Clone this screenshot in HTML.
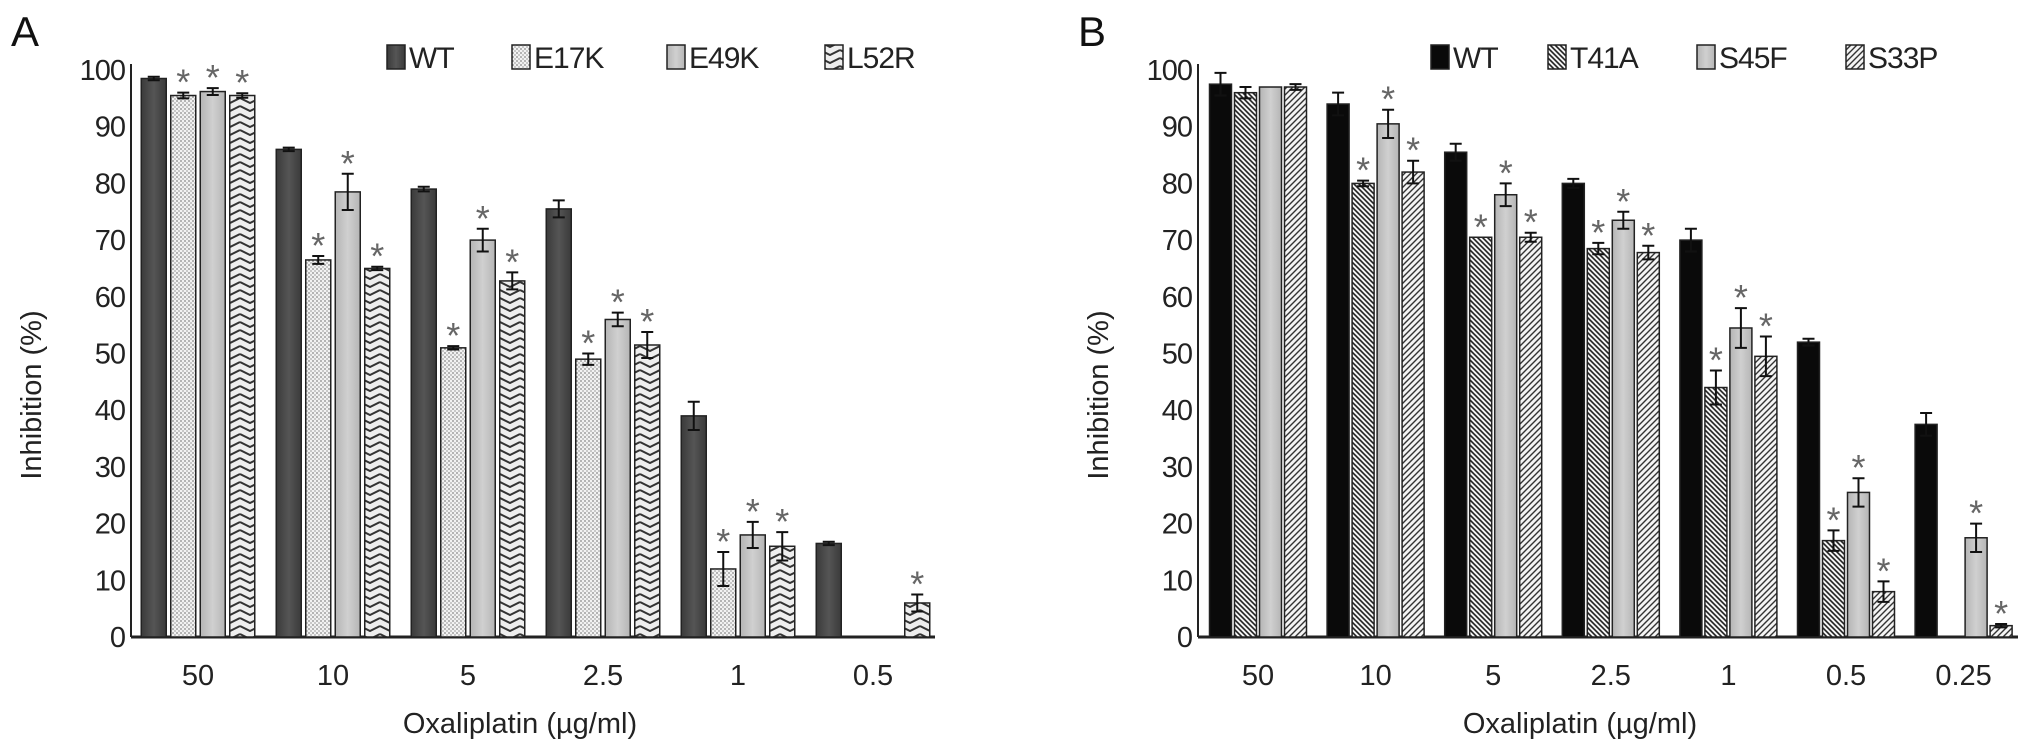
<!DOCTYPE html>
<html><head><meta charset="utf-8"><style>
html,body{margin:0;padding:0;background:#fff;}
svg{display:block;font-family:"Liberation Sans",Arial,sans-serif;}
</style></head><body>
<svg id="chart" width="2032" height="756" viewBox="0 0 2032 756" xmlns="http://www.w3.org/2000/svg">
<defs>
<linearGradient id="gWT" x1="0" x2="1" y1="0" y2="0"><stop offset="0" stop-color="#3a3a3a"/><stop offset="0.5" stop-color="#555"/><stop offset="1" stop-color="#3a3a3a"/></linearGradient>
<linearGradient id="gGray" x1="0" x2="1" y1="0" y2="0"><stop offset="0" stop-color="#b5b5b5"/><stop offset="0.5" stop-color="#d0d0d0"/><stop offset="1" stop-color="#b5b5b5"/></linearGradient>
<pattern id="pDots" width="4" height="4" patternUnits="userSpaceOnUse"><rect width="4" height="4" fill="#f2f2f2"/><circle cx="1" cy="1" r="0.9" fill="#888"/><circle cx="3" cy="3" r="0.9" fill="#aaa"/></pattern>
<pattern id="pZig" width="20" height="8" patternUnits="userSpaceOnUse"><rect width="20" height="8" fill="#eee"/><path d="M0 2 L10 7 L20 2" stroke="#333" stroke-width="2" fill="none"/></pattern>
<pattern id="pBack" width="5" height="5" patternUnits="userSpaceOnUse"><rect width="5" height="5" fill="#f4f4f4"/><path d="M-1 -1 L6 6 M-1 4 L1 6 M4 -1 L6 1" stroke="#222" stroke-width="1.6"/></pattern>
<pattern id="pFwd" width="6" height="6" patternUnits="userSpaceOnUse"><rect width="6" height="6" fill="#f4f4f4"/><path d="M-1 7 L7 -1 M-1 1 L1 -1 M5 7 L7 5" stroke="#333" stroke-width="1.4"/></pattern>
</defs>
<g id="panelA"></g>
<g id="panelB"></g>
</svg>
<script>
// Panel A data
const catsA = ["50","10","5","2.5","1","0.5"];
const seriesA = ["WT","E17K","E49K","L52R"];
const wtA   = [98.5, 86, 79, 75.5, 39, 16.5];
const e17kA = [95.5, 66.5, 51, 49, 12, 0];
const e49kA = [96.2, 78.5, 70, 56, 18, 0];
const l52rA = [95.5, 65, 62.8, 51.5, 16, 6];
const wtAErr   = [0.3, 0.3, 0.4, 1.5, 2.5, 0.3];
const e17kAErr = [0.5, 0.7, 0.3, 1, 3, 0];
const e49kAErr = [0.6, 3.2, 2, 1.2, 2.3, 0];
const l52rAErr = [0.4, 0.3, 1.5, 2.3, 2.5, 1.5];
const starA = [[0,1,1,1],[0,1,1,1],[0,1,1,1],[0,1,1,1],[0,1,1,1],[0,0,0,1]];
// Panel B data
const catsB = ["50","10","5","2.5","1","0.5","0.25"];
const seriesB = ["WT","T41A","S45F","S33P"];
const wtB   = [97.5, 94, 85.5, 80, 70, 52, 37.5];
const t41aB = [96, 80, 70.5, 68.5, 44, 17, 0];
const s45fB = [97, 90.5, 78, 73.5, 54.5, 25.5, 17.5];
const s33pB = [97, 82, 70.5, 67.8, 49.5, 8, 2];
const wtBErr   = [2, 2, 1.5, 0.8, 2, 0.6, 2];
const t41aBErr = [1, 0.5, 0, 1, 3, 1.8, 0];
const s45fBErr = [0, 2.5, 2, 1.5, 3.5, 2.5, 2.5];
const s33pBErr = [0.5, 2, 0.8, 1.2, 3.5, 1.8, 0.3];
const starB = [[0,0,0,0],[0,1,1,1],[0,1,1,1],[0,1,1,1],[0,1,1,1],[0,1,1,1],[0,0,1,1]];
const yTicks = [0,10,20,30,40,50,60,70,80,90,100];

const NS="http://www.w3.org/2000/svg";
function mk(tag, attrs, parent){const e=document.createElementNS(NS,tag);for(const k in attrs)e.setAttribute(k,attrs[k]);parent.appendChild(e);return e;}

function drawPanel(g, cfg){
  const y0=637, y100=70;
  const yS=v=>y0-(y0-y100)*v/100;
  let ax=mk('line',{x1:cfg.axX,x2:cfg.axX,y1:y100-6,y2:y0,stroke:'#222','stroke-width':2},g);
   
  let bx=mk('line',{x1:cfg.axX,x2:cfg.axEnd,y1:y0,y2:y0,stroke:'#222','stroke-width':3},g);
   
  yTicks.forEach(t=>{
    const tx=mk('text',{x:cfg.axX-6,y:yS(t)+10,'text-anchor':'end','font-size':29,fill:'#222','letter-spacing':'-1'},g);
    tx.textContent=t;
     
  });
  const yt=mk('text',{x:0,y:0,'text-anchor':'middle','font-size':29,fill:'#222',transform:`translate(${cfg.axX-90},395) rotate(-90)`},g);
  yt.textContent='Inhibition (%)';
   
  const xt=mk('text',{x:cfg.titleX,y:733,'text-anchor':'middle','font-size':29,fill:'#222'},g);
  xt.textContent='Oxaliplatin (µg/ml)';
   
  const pl=mk('text',{x:cfg.axX-120,y:46,'font-size':42,fill:'#111'},g);
  pl.textContent=cfg.letter;
   
  cfg.cats.forEach((c,i)=>{
    const cx=cfg.first+i*cfg.step;
    const lb=mk('text',{x:cx,y:685,'text-anchor':'middle','font-size':29,fill:'#222'},g);
    lb.textContent=c;
     
    cfg.vals.forEach((arr,s)=>{
      const v=arr[i], e=cfg.errs[s][i];
      const x=cx-2*cfg.pitch+s*cfg.pitch+(cfg.pitch-cfg.bw)/2;
      if(v>0){
        const r=mk('rect',{x:x,y:yS(v),width:cfg.bw,height:y0-yS(v),fill:cfg.fills[s],stroke:'#222','stroke-width':1.5},g);
        
        
        const xc=x+cfg.bw/2;
        if(e>0){
          const eb=mk('path',{d:`M${xc-6} ${yS(v+e)}H${xc+6}M${xc} ${yS(v+e)}V${yS(v-e)}M${xc-6} ${yS(v-e)}H${xc+6}`,stroke:'#111','stroke-width':2,fill:'none'},g);
           
        }
        if(cfg.stars[i][s]){
          const st=mk('text',{x:xc,y:yS(v+e)+2,'text-anchor':'middle','font-size':36,fill:'#666'},g);
          st.textContent='*';
           
        }
      }
    });
  });
  cfg.series.forEach((s,k)=>{
    const lx=cfg.legX[k];
    const lg=mk('g',{},g);
     
    mk('rect',{x:lx,y:45,width:18,height:24,fill:cfg.fills[k],stroke:'#222','stroke-width':1.5},lg);
    const t=mk('text',{x:lx+22,y:68,'font-size':30,fill:'#222','letter-spacing':'-1'},lg);
    t.textContent=s;
  });
}
drawPanel(document.getElementById('panelA'),{
  letter:'A',axX:131,axEnd:935,first:198,step:135,pitch:29.5,bw:25,titleX:520,
  cats:catsA,series:seriesA,vals:[wtA,e17kA,e49kA,l52rA],errs:[wtAErr,e17kAErr,e49kAErr,l52rAErr],
  stars:starA,fills:['url(#gWT)','url(#pDots)','url(#gGray)','url(#pZig)'],legX:[387,512,667,825]
});
drawPanel(document.getElementById('panelB'),{
  letter:'B',axX:1198,axEnd:2018,first:1258,step:117.6,pitch:25,bw:22,titleX:1580,
  cats:catsB,series:seriesB,vals:[wtB,t41aB,s45fB,s33pB],errs:[wtBErr,t41aBErr,s45fBErr,s33pBErr],
  stars:starB,fills:['#0a0a0a','url(#pBack)','url(#gGray)','url(#pFwd)'],legX:[1431,1548,1697,1846]
});
</script>
</body></html>
